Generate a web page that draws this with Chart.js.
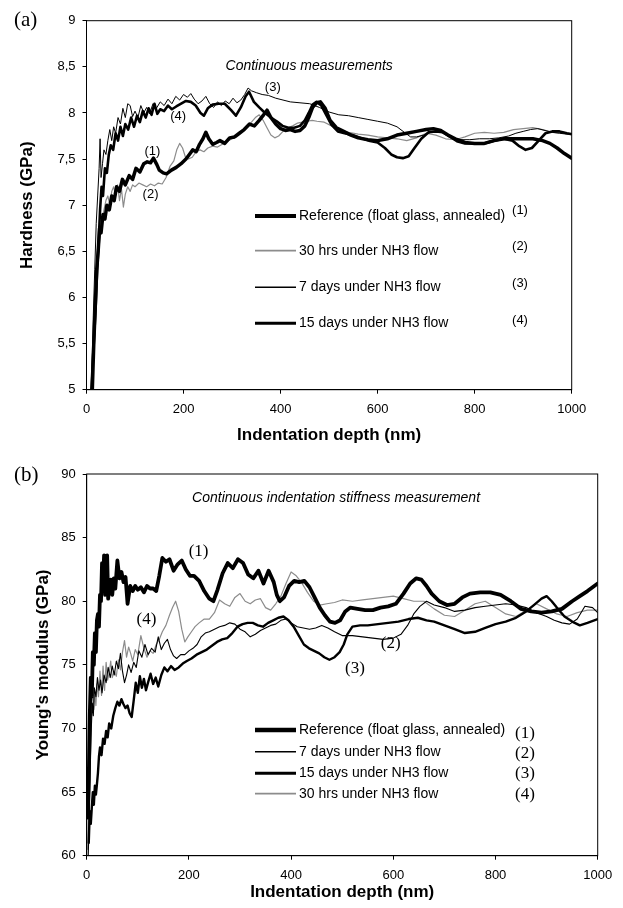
<!DOCTYPE html>
<html>
<head>
<meta charset="utf-8">
<script src="https://cdn.jsdelivr.net/npm/chart.js@4"></script>
<style>
  body { margin: 0; background: #fff; }
  #wrap { position: relative; width: 623px; height: 908px; background: #fff; }
  canvas { position: absolute; left: 0; }
  #chartA { top: 0; }
  #chartB { top: 454px; }
</style>
</head>
<body>
<div id="wrap">
  <canvas id="chartA" width="623" height="454"></canvas>
  <canvas id="chartB" width="623" height="454"></canvas>
</div>
<script>
// ---- (a) Hardness vs indentation depth ----
const refDepthA = [12,15,18,21,24,27,30,34,38,42,47,52,57,62,68,74,80,88,95,102,110,118,125,132,138,145,150,158,165,175,185,195,205,212,219,226,233,240,246,252,260,268,275,285,295,305,315,325,336,346,356,365,372,380,390,400,410,420,430,440,450,458,466,474,482,492,502,515,530,545,560,580,600,620,640,660,680,700,715,730,745,760,780,800,820,840,860,880,900,920,940,955,970,985,1000];
const refHardness = [5.0,5.5,5.9,6.3,6.5,6.75,6.7,6.9,6.85,7.0,6.95,7.1,7.05,7.2,7.15,7.28,7.22,7.32,7.28,7.4,7.36,7.45,7.47,7.46,7.51,7.44,7.38,7.35,7.34,7.38,7.41,7.45,7.5,7.55,7.6,7.58,7.66,7.72,7.79,7.72,7.66,7.68,7.7,7.67,7.73,7.74,7.78,7.82,7.88,7.86,7.92,7.98,8.03,7.95,7.88,7.83,7.81,7.82,7.8,7.81,7.86,7.95,8.06,8.11,8.12,8.05,7.92,7.84,7.8,7.76,7.73,7.71,7.7,7.72,7.76,7.78,7.8,7.82,7.83,7.81,7.76,7.72,7.68,7.67,7.67,7.7,7.72,7.72,7.72,7.72,7.7,7.67,7.62,7.56,7.51];

const hrs30DepthA = [12,15,18,21,24,27,30,33,36,40,44,48,52,56,60,64,68,72,76,80,85,90,95,100,108,116,124,132,140,148,156,164,172,180,186,192,198,204,210,218,226,234,242,250,260,270,280,290,300,310,320,330,340,348,356,364,372,380,388,396,405,415,425,435,445,455,465,475,490,505,520,540,560,580,600,620,640,660,680,700,720,740,760,780,800,820,840,860,880,900,920,940,960,980,1000];
const hrs30Hardness = [5.1,5.5,5.85,6.2,6.45,6.6,6.75,6.85,6.95,7.05,7.1,7.0,7.15,7.2,7.1,7.22,7.05,7.18,6.98,7.12,7.2,7.15,7.22,7.2,7.24,7.22,7.2,7.23,7.21,7.24,7.23,7.3,7.42,7.48,7.6,7.67,7.62,7.52,7.5,7.52,7.58,7.6,7.58,7.62,7.64,7.63,7.66,7.69,7.72,7.74,7.79,7.85,7.9,7.95,7.98,7.92,7.84,7.76,7.73,7.75,7.8,7.84,7.86,7.89,7.9,7.91,7.92,7.91,7.9,7.86,7.82,7.79,7.77,7.76,7.74,7.73,7.72,7.7,7.73,7.78,7.76,7.72,7.71,7.74,7.78,7.79,7.78,7.79,7.82,7.83,7.84,7.82,7.79,7.78,7.78];

const days7DepthA = [11,14,17,20,23,26,28,30,33,36,40,44,48,52,56,60,65,70,75,80,85,90,95,100,106,112,118,124,130,137,144,152,160,168,176,184,192,200,208,215,222,230,238,246,254,262,270,278,286,294,302,310,318,326,333,340,350,362,375,390,405,420,440,460,480,500,520,540,560,580,600,620,640,655,668,680,695,710,725,740,755,770,790,810,830,850,870,885,900,915,930,945,960,975,990,1000];
const days7Hardness = [5.2,5.8,6.3,6.8,7.1,7.4,7.72,7.3,7.45,7.6,7.55,7.7,7.82,7.7,7.85,7.78,7.95,7.88,8.05,7.95,8.1,8.08,7.96,8.02,7.95,8.08,8.0,8.06,7.99,8.1,8.05,8.12,8.08,8.15,8.1,8.18,8.14,8.2,8.17,8.21,8.15,8.1,8.13,8.18,8.1,8.06,8.12,8.08,8.13,8.1,8.16,8.11,8.14,8.2,8.27,8.24,8.22,8.2,8.19,8.16,8.14,8.12,8.11,8.1,8.06,8.01,7.98,7.97,7.95,7.93,7.91,7.89,7.85,7.79,7.74,7.74,7.76,7.79,7.81,7.78,7.73,7.71,7.71,7.72,7.72,7.73,7.75,7.78,7.8,7.82,7.83,7.81,7.79,7.78,7.77,7.77];

const days15DepthA = [10,13,16,19,22,25,28,31,34,38,42,46,50,55,60,65,70,75,80,86,92,98,104,110,116,122,128,134,140,146,152,160,168,176,185,195,205,215,225,235,242,250,260,272,285,298,308,318,328,335,345,356,368,380,392,404,416,428,440,450,458,466,474,484,494,505,518,532,548,565,582,600,615,628,640,652,664,676,690,705,720,735,750,765,780,800,820,840,860,878,892,905,918,932,946,960,975,990,1000];
const days15Hardness = [5.0,5.3,5.6,5.9,6.3,6.6,6.95,7.2,7.1,7.4,7.35,7.55,7.65,7.6,7.78,7.7,7.85,7.75,7.88,7.82,7.95,7.85,7.97,7.9,8.02,7.95,8.05,7.98,8.1,7.99,8.04,8.02,8.08,8.04,8.07,8.1,8.13,8.12,8.08,8.0,7.97,8.05,8.09,8.1,8.1,8.03,7.97,8.06,8.18,8.23,8.12,8.06,8.0,7.95,7.91,7.86,7.84,7.84,7.86,7.92,8.0,8.09,8.12,8.08,7.98,7.87,7.8,7.78,7.76,7.73,7.7,7.68,7.62,7.55,7.52,7.51,7.53,7.62,7.72,7.79,7.8,7.79,7.74,7.69,7.67,7.67,7.67,7.7,7.72,7.7,7.64,7.6,7.62,7.7,7.78,7.8,7.8,7.78,7.77];

const depthTicksA = [0, 200, 400, 600, 800, 1000];
const hardnessTicks = [5, 5.5, 6, 6.5, 7, 7.5, 8, 8.5, 9];

// ---- (b) Young's modulus vs indentation depth ----
const refDepthB = [2,4,6,8,10,12,14,16,18,20,22,24,26,28,30,32,34,36,38,40,42,44,47,50,53,56,60,64,68,72,76,80,85,90,95,100,106,112,118,124,130,136,142,148,155,162,170,178,186,194,202,210,220,230,240,248,256,266,276,286,296,306,316,326,336,346,356,366,372,378,386,396,406,416,426,436,446,456,466,476,486,496,506,516,530,545,560,575,590,605,620,633,645,655,665,675,690,705,720,735,750,770,790,810,830,850,870,890,910,930,950,965,980,990,1000];
const refModulus = [63,66,71,74,72.5,76,75,77.5,76,78.5,79,78,80.5,80,83,81.5,83.6,80.5,82.5,83.6,80.2,81,81.7,80.5,81.8,81,83.2,81.8,82.3,81.5,81.9,79.8,81.2,80.8,81.2,80.9,81.1,80.7,81.2,81.0,81.0,80.8,82.0,83.4,83.1,83.3,82.4,82.9,83.2,82.5,82.0,82.0,81.6,80.8,80.2,80.0,80.9,82.2,83.0,82.6,83.3,83.0,82.1,81.8,82.4,81.4,82.4,81.5,80.5,80.0,80.3,81.2,81.6,81.5,81.6,81.1,80.3,79.5,78.9,78.4,78.3,78.5,79.2,79.5,79.4,79.3,79.3,79.5,79.6,79.8,80.6,81.4,81.8,81.7,81.2,80.6,80.0,79.7,79.8,80.3,80.6,80.7,80.7,80.5,80.0,79.4,79.2,79.1,79.2,79.4,80.0,80.4,80.8,81.1,81.4];

const days7DepthB = [3,5,7,9,11,13,15,18,21,24,27,30,34,38,42,46,50,54,58,62,66,70,74,78,82,87,92,97,102,108,114,120,127,134,140,146,152,158,164,170,176,184,192,200,208,216,224,232,240,250,260,270,280,290,300,310,320,330,340,350,360,370,380,390,400,412,424,436,448,460,472,485,500,520,540,560,580,600,615,628,640,652,665,680,700,720,740,760,780,800,820,840,860,880,900,915,930,945,960,975,990,1000];
const days7Modulus = [60,63,67,70,72,71,73.2,72.5,74,73,73.8,72.8,74.2,73.6,74.8,74.0,74.9,74.2,75.3,74.7,75.9,74.5,73.6,74.2,75.0,74.4,75.2,74.8,76.1,75.6,76.6,75.8,76.3,76.0,77.2,76.2,76.7,77.0,76.2,75.7,75.5,75.8,75.8,76.1,76.3,76.6,77.2,77.5,77.6,77.8,78.0,78.1,78.3,78.2,77.8,77.6,77.2,77.4,77.7,77.9,78.1,78.2,78.5,78.6,78.3,78.0,77.9,77.8,77.9,78.1,77.9,77.6,77.3,77.3,77.2,77.1,77.0,77.1,77.4,78.1,79.0,79.6,80.0,79.7,79.5,79.2,79.3,79.5,79.6,79.7,79.8,79.7,79.5,79.1,78.8,78.5,78.3,78.2,78.6,79.6,79.5,79.1];

const days15DepthB = [4,6,8,10,12,14,16,18,20,22,24,26,29,32,35,38,41,44,48,52,56,60,64,68,72,76,80,84,88,92,96,100,104,108,112,116,120,125,130,135,140,146,152,158,165,172,180,188,196,205,215,225,235,245,255,265,275,285,295,305,315,325,335,345,355,365,375,385,395,405,415,425,435,445,455,465,475,485,495,503,510,520,535,550,570,590,610,630,648,665,680,700,720,740,760,780,800,820,840,860,875,890,900,910,920,935,950,965,980,1000];
const days15Modulus = [61,63.5,62.5,63.8,65,64,65.5,64.8,65.6,66.5,67.8,68.5,67.9,69.2,68.8,69.8,69.3,70.4,70.0,71.0,71.6,72.1,71.8,72.3,71.9,71.6,71.8,71.2,70.9,72.2,73.6,72.8,74.1,73.2,73.9,73.0,73.6,74.3,73.5,74.0,73.3,74.2,74.8,74.5,74.9,74.6,74.8,75.1,75.3,75.5,75.8,76.0,76.2,76.5,76.8,77.0,77.1,77.5,78.0,78.2,78.3,78.3,78.1,78.0,78.3,78.5,78.7,78.8,78.5,78.0,77.3,76.6,76.3,76.1,75.9,75.6,75.4,75.6,76.0,76.6,77.4,78.0,78.1,78.1,78.2,78.3,78.4,78.6,78.7,78.5,78.4,78.1,77.8,77.5,77.6,77.9,78.2,78.4,78.7,79.2,79.7,80.2,80.4,80.0,79.5,78.8,78.4,78.1,78.3,78.6];

const hrs30DepthB = [2,4,6,8,10,12,14,16,18,20,23,26,29,32,35,38,41,44,47,50,54,58,62,66,70,74,78,82,86,90,95,100,106,112,118,124,130,136,142,148,155,162,168,174,180,186,192,198,205,212,220,230,240,250,260,270,280,290,300,310,320,330,340,350,360,370,380,390,400,410,420,432,444,456,470,485,500,520,540,560,580,600,620,640,660,680,700,720,740,760,780,800,820,840,860,880,900,920,940,960,980,1000];
const hrs30Modulus = [60.5,64,68,70,72,73,71.5,72.8,71.8,73.5,72.5,74.5,72.6,74.9,73.0,75.2,73.8,74.4,75.3,74.0,74.5,74.1,75.4,74.6,76.0,76.9,75.6,76.4,75.9,75.3,76.2,75.8,77.3,76.3,75.6,76.1,75.9,76.6,77.0,77.6,78.1,78.9,79.5,80.0,79.2,77.8,76.8,77.2,77.6,78.0,78.3,78.6,78.6,79.1,80.1,79.8,79.6,80.3,80.6,80.0,79.8,80.1,80.2,79.5,79.3,79.8,80.4,81.4,82.3,82.0,81.5,80.7,80.0,79.7,79.8,79.9,80.1,80.0,80.1,80.2,80.3,80.4,80.2,80.0,80.0,79.4,78.9,78.8,79.3,79.8,80.0,79.5,79.0,78.8,79.3,79.8,79.4,79.0,78.8,79.1,79.3,79.3];

const depthTicksB = [0, 200, 400, 600, 800, 1000];
const modulusTicks = [60, 65, 70, 75, 80, 85, 90];

const SANS = "'Liberation Sans', Arial, Helvetica, sans-serif";
const SERIF = "'Liberation Serif', 'Times New Roman', Times, serif";
const GRAY = '#8c8c8c';

const pts = (xs, ys) => xs.map((x, i) => ({x: x, y: ys[i]}));

const line = (label, xs, ys, color, width, order) => ({
  label: label,
  data: pts(xs, ys),
  borderColor: color,
  borderWidth: width,
  pointRadius: 0,
  tension: 0,
  fill: false,
  order: order,
  borderJoinStyle: 'round',
  borderCapStyle: 'round',
});

// frame, panel letter, notes, curve numbers and the legend box
const extras = {
  id: 'extras',
  afterDraw(chart, args, opts) {
    const ctx = chart.ctx;
    const a = chart.chartArea;
    const xs = chart.scales.x, ys = chart.scales.y;
    ctx.save();
    ctx.strokeStyle = '#000';
    ctx.lineWidth = 1;
    ctx.strokeRect(a.left, a.top, a.right - a.left, a.bottom - a.top);

    ctx.fillStyle = '#000';
    ctx.textBaseline = 'middle';
    ctx.textAlign = 'left';
    ctx.font = '21px ' + SERIF;
    ctx.fillText(opts.panel, 14, opts.panelY);

    ctx.textAlign = 'center';
    ctx.font = 'italic 14px ' + SANS;
    ctx.fillText(opts.note.text, xs.getPixelForValue(opts.note.x), ys.getPixelForValue(opts.note.y));

    ctx.font = opts.numFont;
    opts.marks.forEach(m => {
      ctx.fillText(m.text, xs.getPixelForValue(m.x), ys.getPixelForValue(m.y));
    });

    // legend
    const lg = opts.legend;
    lg.items.forEach((it, i) => {
      const ds = chart.data.datasets[it.ds];
      const y = lg.rows[i];
      ctx.beginPath();
      ctx.strokeStyle = ds.borderColor;
      ctx.lineWidth = ds.borderWidth + 0.5;
      ctx.lineCap = 'butt';
      ctx.moveTo(lg.x1, y);
      ctx.lineTo(lg.x2, y);
      ctx.stroke();
      ctx.textAlign = 'left';
      ctx.font = '14px ' + SANS;
      ctx.fillText(ds.label, lg.x2 + 3, y);
      ctx.textAlign = 'center';
      ctx.font = opts.numFont;
      ctx.fillText(it.num, lg.numX, lg.numRows[i]);
    });
    ctx.restore();
  }
};

function scales(o) {
  return {
    x: {
      type: 'linear', min: o.xTicks[0], max: o.xTicks[o.xTicks.length - 1],
      afterBuildTicks: s => { s.ticks = o.xTicks.map(v => ({value: v})); },
      afterFit: s => { s.height = o.xHeight; },
      ticks: { color: '#000', padding: 8, maxRotation: 0, autoSkip: false,
               font: {family: SANS, size: 13},
               callback: v => String(v) },
      grid: { drawOnChartArea: false, drawTicks: true, tickLength: 4, color: '#000' },
      border: { color: '#000', width: 1 },
      title: { display: true, text: 'Indentation depth (nm)', color: '#000',
               font: {family: SANS, size: 17, weight: 'bold'},
               padding: {top: 0, bottom: o.xTitlePad} },
    },
    y: {
      type: 'linear', min: o.yTicks[0], max: o.yTicks[o.yTicks.length - 1],
      afterBuildTicks: s => { s.ticks = o.yTicks.map(v => ({value: v})); },
      afterFit: s => { s.width = o.yWidth; },
      ticks: { color: '#000', padding: 7, autoSkip: false,
               font: {family: SANS, size: 13},
               callback: v => String(v).replace('.', ',') },
      grid: { drawOnChartArea: false, drawTicks: true, tickLength: 4, color: '#000' },
      border: { color: '#000', width: 1 },
      title: { display: true, text: o.yTitle, color: '#000',
               font: {family: SANS, size: 17, weight: 'bold'},
               padding: {top: o.yTitlePad, bottom: 0} },
    },
  };
}

new Chart(document.getElementById('chartA'), {
  type: 'line',
  data: {
    datasets: [
      line('Reference (float glass, annealed)', refDepthA, refHardness, '#000', 3.5, 0),
      line('30 hrs under NH3 flow', hrs30DepthA, hrs30Hardness, GRAY, 1.2, 3),
      line('7 days under NH3 flow', days7DepthA, days7Hardness, '#000', 1, 2),
      line('15 days under NH3 flow', days15DepthA, days15Hardness, '#000', 2.6, 1),
    ],
  },
  options: {
    responsive: false,
    animation: false,
    events: [],
    layout: { padding: {top: 20.7, right: 51.3, left: 0, bottom: 0} },
    scales: scales({xTicks: depthTicksA, yTicks: hardnessTicks, xHeight: 64.3, yWidth: 86.5,
                    xTitlePad: 8.8, yTitlePad: 16.8, yTitle: 'Hardness (GPa)'}),
    plugins: {
      legend: { display: false },
      tooltip: { enabled: false },
      extras: {
        panel: '(a)', panelY: 20,
        note: { text: 'Continuous measurements', x: 459, y: 8.51 },
        numFont: '13px ' + SANS,
        marks: [
          { text: '(1)', x: 136, y: 7.58 },
          { text: '(2)', x: 132, y: 7.12 },
          { text: '(3)', x: 384, y: 8.28 },
          { text: '(4)', x: 189, y: 7.96 },
        ],
        legend: {
          x1: 255, x2: 296, numX: 520,
          rows: [216, 250.7, 287.3, 323.3],
          numRows: [210, 246.7, 283.3, 320],
          items: [ {ds: 0, num: '(1)'}, {ds: 1, num: '(2)'}, {ds: 2, num: '(3)'}, {ds: 3, num: '(4)'} ],
        },
      },
    },
  },
  plugins: [extras],
});

new Chart(document.getElementById('chartB'), {
  type: 'line',
  data: {
    datasets: [
      line('Reference (float glass, annealed)', refDepthB, refModulus, '#000', 3.8, 0),
      line('7 days under NH3 flow', days7DepthB, days7Modulus, '#000', 1.1, 2),
      line('15 days under NH3 flow', days15DepthB, days15Modulus, '#000', 2.4, 1),
      line('30 hrs under NH3 flow', hrs30DepthB, hrs30Modulus, GRAY, 1.2, 3),
    ],
  },
  options: {
    responsive: false,
    animation: false,
    events: [],
    layout: { padding: {top: 20, right: 25.3, left: 0, bottom: 0} },
    scales: scales({xTicks: depthTicksB, yTicks: modulusTicks, xHeight: 52.3, yWidth: 86.7,
                    xTitlePad: 5.8, yTitlePad: 32.8, yTitle: "Young's modulus (GPa)"}),
    plugins: {
      legend: { display: false },
      tooltip: { enabled: false },
      extras: {
        panel: '(b)', panelY: 21,
        note: { text: 'Continuous indentation stiffness measurement', x: 488, y: 88.1 },
        numFont: '17px ' + SERIF,
        marks: [
          { text: '(1)', x: 219, y: 83.9 },
          { text: '(2)', x: 595, y: 76.7 },
          { text: '(3)', x: 525, y: 74.7 },
          { text: '(4)', x: 117, y: 78.6 },
        ],
        legend: {
          x1: 255, x2: 296, numX: 525,
          rows: [276, 297.7, 319.3, 339.7],
          numRows: [279.3, 300, 320, 340.3],
          items: [ {ds: 0, num: '(1)'}, {ds: 1, num: '(2)'}, {ds: 2, num: '(3)'}, {ds: 3, num: '(4)'} ],
        },
      },
    },
  },
  plugins: [extras],
});
</script>
</body>
</html>
